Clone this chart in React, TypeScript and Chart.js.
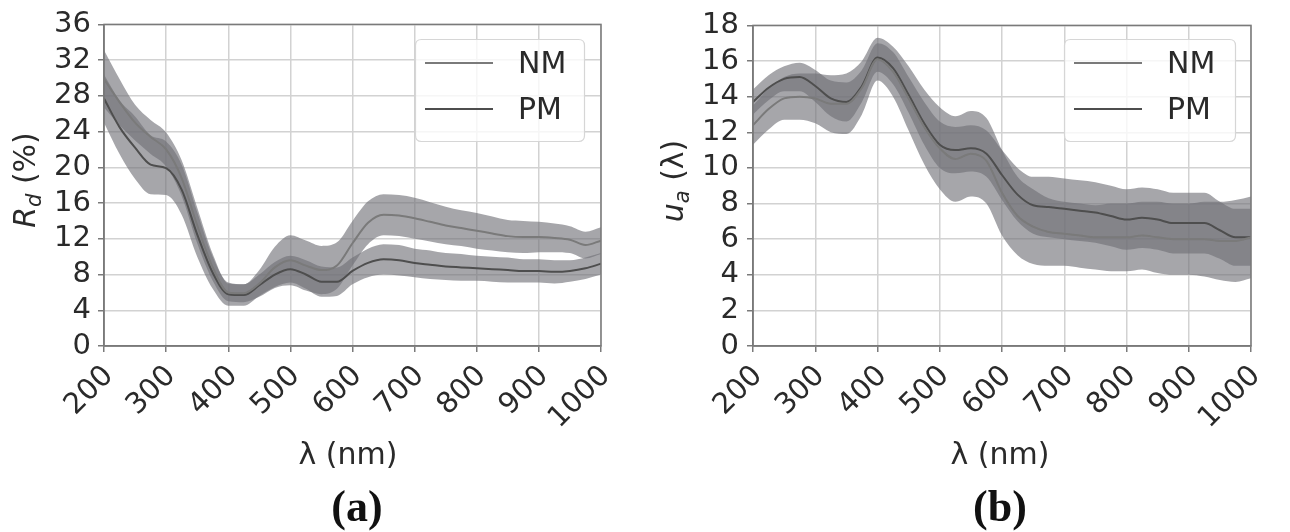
import React, { useEffect, useRef } from "react";
import { Chart, registerables } from "chart.js";

Chart.register(...registerables);

// ---------- data ----------
const WAVELENGTHS = [
  200, 225, 250, 275, 300, 325, 350, 375, 400, 425, 450, 475, 500, 525, 550, 575, 600,
  625, 650, 675, 700, 725, 750, 775, 800, 825, 850, 875, 900, 925, 950, 975, 1000,
];

// (a) diffuse reflectance R_d (%)
const RD_NM = [
  29.9, 27.3, 25.0, 23.4, 22.0, 18.8, 13.5, 8.8, 6.0, 5.9, 7.0, 8.8, 9.6, 9.0, 8.5, 9.0, 11.5,
  13.8, 14.7, 14.6, 14.3, 13.9, 13.5, 13.2, 12.9, 12.6, 12.3, 12.2, 12.2, 12.1, 11.9, 11.3, 11.8,
];
const RD_NM_STD = [
  3.2, 2.6, 2.0, 1.9, 1.9, 2.0, 2.0, 1.5, 1.0, 1.0, 1.5, 2.3, 2.8, 2.8, 2.7, 2.6, 2.5,
  2.4, 2.3, 2.3, 2.3, 2.2, 2.1, 2.0, 2.0, 1.9, 1.8, 1.8, 1.7, 1.6, 1.5, 1.5, 1.5,
];
const RD_PM = [
  27.7, 24.5, 22.2, 20.3, 19.9, 17.5, 12.5, 8.2, 5.8, 5.7, 6.8, 8.0, 8.6, 8.0, 7.2, 7.2, 8.4,
  9.3, 9.7, 9.6, 9.3, 9.1, 8.9, 8.8, 8.7, 8.6, 8.5, 8.4, 8.4, 8.3, 8.4, 8.7, 9.2,
];
const RD_PM_STD = [
  2.7, 3.0, 3.5, 3.3, 3.0, 2.8, 2.5, 1.8, 1.3, 1.2, 1.2, 1.4, 1.5, 1.6, 1.7, 1.6, 1.5,
  1.6, 1.7, 1.7, 1.6, 1.6, 1.5, 1.5, 1.4, 1.4, 1.4, 1.3, 1.3, 1.3, 1.2, 1.2, 1.2,
];

// (b) absorption u_a (λ)
const UA_NM = [
  12.4, 13.3, 13.9, 14.0, 13.9, 13.6, 13.6, 14.5, 16.1, 15.4, 13.9, 12.3, 11.1, 10.5, 10.8, 10.4, 8.6,
  7.3, 6.7, 6.4, 6.3, 6.2, 6.1, 6.1, 6.1, 6.2, 6.1, 6.0, 6.0, 6.0, 5.9, 5.9, 6.1,
];
const UA_NM_STD = [
  1.1, 1.15, 1.2, 1.3, 1.4, 1.6, 1.7, 1.5, 1.2, 1.4, 1.8, 2.1, 2.3, 2.4, 2.4, 2.4, 2.4,
  2.2, 2.1, 1.9, 1.8, 1.8, 1.8, 1.9, 1.9, 1.9, 2.0, 2.0, 2.0, 2.1, 2.2, 2.3, 2.3,
];
const UA_PM = [
  13.7, 14.5, 15.0, 15.1, 14.6, 13.9, 13.7, 14.6, 16.2, 15.6, 14.1, 12.5, 11.3, 11.0, 11.1, 10.8, 9.6,
  8.5, 7.9, 7.8, 7.7, 7.6, 7.5, 7.3, 7.1, 7.2, 7.1, 6.9, 6.9, 6.9, 6.5, 6.1, 6.1,
];
const UA_PM_STD = [
  0.7, 0.7, 0.7, 0.8, 0.9, 1.0, 1.1, 0.9, 0.8, 0.9, 1.0, 1.2, 1.3, 1.3, 1.3, 1.3, 1.4,
  1.5, 1.6, 1.7, 1.7, 1.7, 1.7, 1.7, 1.7, 1.7, 1.7, 1.7, 1.7, 1.7, 1.6, 1.6, 1.6,
];

const X_TICKS = [200, 300, 400, 500, 600, 700, 800, 900, 1000];
const RD_TICKS = [0, 4, 8, 12, 16, 20, 24, 28, 32, 36];
const UA_TICKS = [0, 2, 4, 6, 8, 10, 12, 14, 16, 18];
const SERIES_LABELS = ["NM", "PM"];

// ---------- styles ----------
const FONT = "'DejaVu Sans', sans-serif";
const TEXT_COLOR = "#2a2a2a";
const NM_COLOR = "#7a7a7a";
const PM_COLOR = "#4e4e4e";
const BAND_COLOR = "rgba(112,112,118,0.62)";
const GRID_COLOR = "#d2d2d2";
const SPINE_COLOR = "#7a7a7a";

type Panel = {
  left: number;
  plotLeft: number;
  plotRight: number;
  tickPad: number;
  nm: number[];
  nmStd: number[];
  pm: number[];
  pmStd: number[];
  yTicks: number[];
  yMain: string;
  ySub: string;
  yRest: string;
  yTitleX: number;
  yTitleY: number;
  xTitleX: number;
  panelLabel: string;
  panelLabelX: number;
  legendX: number;
  legendW: number;
};

const PANELS: Panel[] = [
  {
    left: 0,
    plotLeft: 104,
    plotRight: 601,
    tickPad: 7,
    nm: RD_NM,
    nmStd: RD_NM_STD,
    pm: RD_PM,
    pmStd: RD_PM_STD,
    yTicks: RD_TICKS,
    yMain: "R",
    ySub: "d",
    yRest: " (%)",
    yTitleX: 24,
    yTitleY: 180,
    xTitleX: 348,
    panelLabel: "(a)",
    panelLabelX: 357,
    legendX: 415,
    legendW: 169,
  },
  {
    left: 645,
    plotLeft: 108,
    plotRight: 606,
    tickPad: 8,
    nm: UA_NM,
    nmStd: UA_NM_STD,
    pm: UA_PM,
    pmStd: UA_PM_STD,
    yTicks: UA_TICKS,
    yMain: "u",
    ySub: "a",
    yRest: " (λ)",
    yTitleX: 27,
    yTitleY: 181,
    xTitleX: 355,
    panelLabel: "(b)",
    panelLabelX: 355,
    legendX: 419,
    legendW: 171,
  },
];

const W = 645;
const H = 532;
const PLOT_TOP = 23;
const PLOT_BOTTOM = 346;

function pts(ys: number[], offs?: number[], sign = 0) {
  return WAVELENGTHS.map((x, i) => ({ x, y: ys[i] + (offs ? sign * offs[i] : 0) }));
}

function roundRect(ctx: CanvasRenderingContext2D, x: number, y: number, w: number, h: number, r: number) {
  ctx.beginPath();
  ctx.moveTo(x + r, y);
  ctx.lineTo(x + w - r, y);
  ctx.quadraticCurveTo(x + w, y, x + w, y + r);
  ctx.lineTo(x + w, y + h - r);
  ctx.quadraticCurveTo(x + w, y + h, x + w - r, y + h);
  ctx.lineTo(x + r, y + h);
  ctx.quadraticCurveTo(x, y + h, x, y + h - r);
  ctx.lineTo(x, y + r);
  ctx.quadraticCurveTo(x, y, x + r, y);
  ctx.closePath();
}

function PanelChart({ p }: { p: Panel }) {
  const ref = useRef<HTMLCanvasElement | null>(null);

  useEffect(() => {
    if (!ref.current) return;
    const yMax = p.yTicks[p.yTicks.length - 1];
    const yStep = p.yTicks[1] - p.yTicks[0];

    const decor = {
      id: "decor",
      afterDraw(chart: any) {
        const ctx: CanvasRenderingContext2D = chart.ctx;
        const a = chart.chartArea;
        ctx.save();
        // spines
        ctx.strokeStyle = SPINE_COLOR;
        ctx.lineWidth = 1.5;
        ctx.strokeRect(a.left, a.top, a.right - a.left, a.bottom - a.top);

        // legend
        const lx = p.legendX;
        const ly = 39;
        roundRect(ctx, lx + 0.5, ly + 0.5, p.legendW, 102, 6);
        ctx.fillStyle = "rgba(255,255,255,0.8)";
        ctx.fill();
        ctx.strokeStyle = "#d6d6d6";
        ctx.lineWidth = 1.2;
        ctx.stroke();
        const rows = [
          { label: SERIES_LABELS[0], color: NM_COLOR, y: 63 },
          { label: SERIES_LABELS[1], color: PM_COLOR, y: 109 },
        ];
        ctx.font = `30px ${FONT}`;
        ctx.textAlign = "left";
        ctx.textBaseline = "middle";
        for (const r of rows) {
          ctx.strokeStyle = r.color;
          ctx.lineWidth = 2;
          ctx.beginPath();
          ctx.moveTo(lx + 10, r.y);
          ctx.lineTo(lx + 78, r.y);
          ctx.stroke();
          ctx.fillStyle = TEXT_COLOR;
          ctx.fillText(r.label, lx + 103, r.y + 2);
        }

        // y title with italic main letter and subscript
        ctx.translate(p.yTitleX, p.yTitleY);
        ctx.rotate(-Math.PI / 2);
        ctx.fillStyle = TEXT_COLOR;
        ctx.textBaseline = "alphabetic";
        const fMain = `italic 30px ${FONT}`;
        const fSub = `italic 21px ${FONT}`;
        const fRest = `30px ${FONT}`;
        ctx.font = fMain;
        const wMain = ctx.measureText(p.yMain).width;
        ctx.font = fSub;
        const wSub = ctx.measureText(p.ySub).width;
        ctx.font = fRest;
        const wRest = ctx.measureText(p.yRest).width;
        let x = -(wMain + wSub + wRest) / 2;
        const base = 11;
        ctx.font = fMain;
        ctx.fillText(p.yMain, x, base);
        x += wMain;
        ctx.font = fSub;
        ctx.fillText(p.ySub, x, base + 6);
        x += wSub;
        ctx.font = fRest;
        ctx.fillText(p.yRest, x, base);
        ctx.setTransform(1, 0, 0, 1, 0, 0);

        // x title
        ctx.font = `30px ${FONT}`;
        ctx.textAlign = "center";
        ctx.textBaseline = "middle";
        ctx.fillStyle = TEXT_COLOR;
        ctx.fillText("λ (nm)", p.xTitleX, 456);

        // panel label
        ctx.font = `bold 44px 'Liberation Serif', 'Times New Roman', serif`;
        ctx.fillStyle = "#111";
        ctx.fillText(p.panelLabel, p.panelLabelX, 510);
        ctx.restore();
      },
    };

    const lineCommon = {
      pointRadius: 0,
      cubicInterpolationMode: "monotone" as const,
    };

    const chart = new Chart(ref.current, {
      type: "line",
      data: {
        datasets: [
          { ...lineCommon, label: SERIES_LABELS[0], data: pts(p.nm), borderColor: NM_COLOR, borderWidth: 2, fill: false, order: 0 },
          { ...lineCommon, label: SERIES_LABELS[1], data: pts(p.pm), borderColor: PM_COLOR, borderWidth: 2, fill: false, order: 0 },
          { ...lineCommon, label: "NM+", data: pts(p.nm, p.nmStd, 1), borderColor: "rgba(0,0,0,0)", borderWidth: 0, backgroundColor: BAND_COLOR, fill: "+1", order: 1 },
          { ...lineCommon, label: "NM-", data: pts(p.nm, p.nmStd, -1), borderColor: "rgba(0,0,0,0)", borderWidth: 0, fill: false, order: 1 },
          { ...lineCommon, label: "PM+", data: pts(p.pm, p.pmStd, 1), borderColor: "rgba(0,0,0,0)", borderWidth: 0, backgroundColor: BAND_COLOR, fill: "+1", order: 1 },
          { ...lineCommon, label: "PM-", data: pts(p.pm, p.pmStd, -1), borderColor: "rgba(0,0,0,0)", borderWidth: 0, fill: false, order: 1 },
        ],
      },
      options: {
        responsive: false,
        maintainAspectRatio: false,
        animation: false,
        events: [],
        layout: { padding: { top: PLOT_TOP, right: W - p.plotRight, left: 0, bottom: 0 } },
        plugins: { legend: { display: false }, tooltip: { enabled: false }, title: { display: false } },
        scales: {
          x: {
            type: "linear",
            min: X_TICKS[0],
            max: X_TICKS[X_TICKS.length - 1],
            afterBuildTicks: (s: any) => {
              s.ticks = X_TICKS.map((v) => ({ value: v }));
            },
            afterFit: (s: any) => {
              s.height = H - PLOT_BOTTOM;
            },
            grid: { color: GRID_COLOR, lineWidth: 1.5, tickLength: 6, tickColor: SPINE_COLOR, drawTicks: true },
            border: { display: true, color: SPINE_COLOR, width: 1.5 },
            ticks: {
              autoSkip: false,
              minRotation: 45,
              maxRotation: 45,
              labelOffset: 5,
              padding: 7,
              color: TEXT_COLOR,
              font: { family: FONT, size: 29 },
              callback: (v: any) => String(v),
            },
          },
          y: {
            type: "linear",
            min: 0,
            max: yMax,
            afterBuildTicks: (s: any) => {
              s.ticks = p.yTicks.map((v) => ({ value: v }));
            },
            afterFit: (s: any) => {
              s.width = p.plotLeft;
            },
            grid: { color: GRID_COLOR, lineWidth: 1.5, tickLength: 6, tickColor: SPINE_COLOR, drawTicks: true },
            border: { display: true, color: SPINE_COLOR, width: 1.5 },
            ticks: {
              autoSkip: false,
              stepSize: yStep,
              padding: p.tickPad,
              color: TEXT_COLOR,
              font: { family: FONT, size: 29 },
              callback: (v: any) => String(v),
            },
          },
        },
      },
      plugins: [decor],
    });
    return () => chart.destroy();
  }, [p]);

  return (
    <canvas
      ref={ref}
      width={W}
      height={H}
      style={{ position: "absolute", left: p.left, top: 0, width: W, height: H, display: "block" }}
    />
  );
}

export default function App() {
  return (
    <div style={{ position: "fixed", left: 0, top: 0, width: 1290, height: 532, background: "#ffffff", overflow: "hidden" }}>
      {PANELS.map((p) => (
        <PanelChart key={p.panelLabel} p={p} />
      ))}
    </div>
  );
}
